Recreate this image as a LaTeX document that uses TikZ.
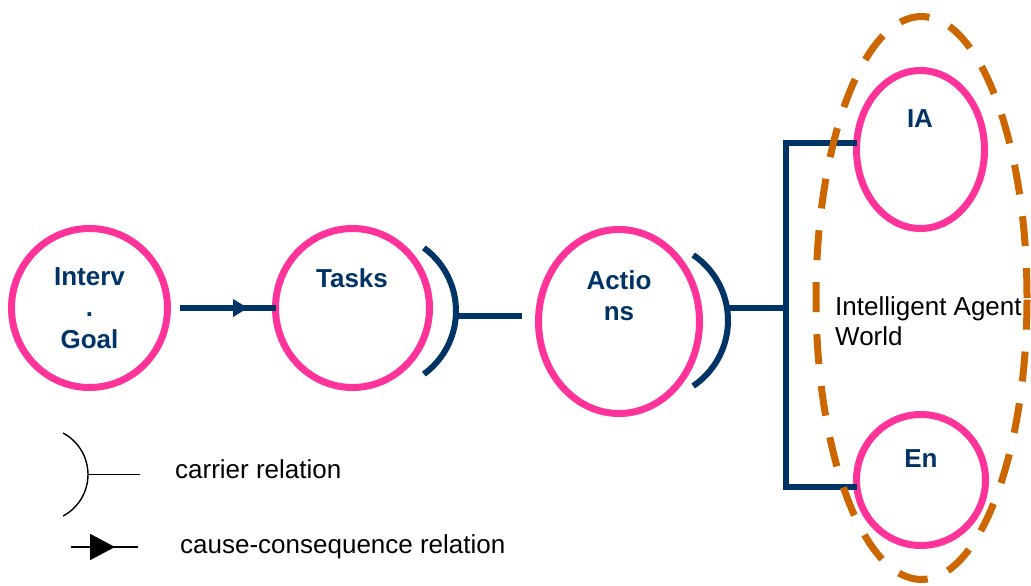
\documentclass[tikz,border=0pt]{standalone}
\usepackage{fontspec}
\setmainfont{Liberation Sans}
\usetikzlibrary{arrows.meta,shapes.geometric}
\definecolor{pinkc}{HTML}{FF3399}
\definecolor{navy}{HTML}{003366}
\definecolor{orng}{HTML}{CC6600}
\begin{document}
\begin{tikzpicture}[x=1pt,y=-1pt,
  circ/.style={ellipse, draw=pinkc, line width=7pt, inner sep=0pt, outer sep=0pt},
  lbl/.style={text=navy, font=\bfseries\fontsize{26}{31.5}\selectfont, align=center, inner sep=0pt, anchor=north},
  plain/.style={font=\fontsize{26}{30}\selectfont, inner sep=0pt},
  navyline/.style={draw=navy, line width=6pt},
  legline/.style={draw=black, line width=1.4pt},
  worldellipse/.style={ellipse, draw=orng, line width=7pt, dash pattern=on 30pt off 22pt, inner sep=0pt, outer sep=0pt}
]
\useasboundingbox (0,0) rectangle (1031,586);

% circles
\node[circ, minimum width=156pt, minimum height=159pt] (goal) at (89.5,308) {};
\node[circ, minimum width=154pt, minimum height=159pt] (tasks) at (352.5,308) {};
\node[circ, minimum width=161pt, minimum height=184pt] (actions) at (619,321.5) {};
\node[circ, minimum width=128pt, minimum height=158pt] (ia) at (920.5,149.5) {};
\node[circ, minimum width=129pt, minimum height=131pt] (en) at (921,480) {};

% labels
\node[lbl] (goalT) at (89.5,267) {Interv\\.\\Goal};
\node[lbl] (tasksT) at (352,268) {Tasks};
\node[lbl] (actionsT) at (619,270) {Actio\\ns};
\node[lbl] (iaT) at (920,109) {IA};
\node[lbl] (enT) at (921,449) {En};
\node[plain, anchor=north west, align=left] (worldT) at (835,296) {Intelligent Agent\\World};

% cause-consequence arrow
\coordinate (arrS) at ([xshift=12pt]goal.east);
\coordinate (arrT) at (248,308);
\draw[navyline] (arrS) -- (tasks.west);
\draw[navyline, -{Triangle[length=15pt,width=17pt]}] (arrS) -- (arrT);

% carrier relation Tasks -> Actions
\draw[navyline] (378,311) ++(-54:78) arc[start angle=-54, end angle=54, radius=78];
\coordinate (tarc) at (455.8,316);
\coordinate (tEnd) at (522,316);
\draw[navyline] (tarc) -- (tEnd);

% carrier relation Actions -> world
\draw[navyline] (649,320.5) ++(-56:79) arc[start angle=-56, end angle=56, radius=79];
\coordinate (aarc) at (727,308);
\coordinate (bt) at (786,143);
\coordinate (bm) at (786,308);
\coordinate (bb) at (786,487);
\draw[navyline] (aarc) -- (bm);
\draw[navyline] (ia.west |- bt) -- (bt) -- (bb) -- (en.west |- bb);

% world ellipse
\node[worldellipse, minimum width=211pt, minimum height=563pt] (world) at (921.5,298) {};

% legend
\draw[legline] (41,474.5) ++(-62:47) arc[start angle=-62, end angle=62, radius=47];
\coordinate (lc) at (88,474.5);
\coordinate (lcE) at (140,474.5);
\draw[legline] (lc) -- (lcE);
\node[plain, anchor=base west] (carrT) at (175,478) {carrier relation};
\coordinate (la1) at (71,547);
\coordinate (la2) at (115,547);
\coordinate (la3) at (138,547);
\draw[legline, line width=1.8pt] (la1) -- (la3);
\draw[legline, line width=1.8pt, -{Triangle[length=25pt,width=26pt]}] (la1) -- (la2);
\node[plain, anchor=base west] (causeT) at (180,553) {cause-consequence relation};
\end{tikzpicture}
\end{document}
